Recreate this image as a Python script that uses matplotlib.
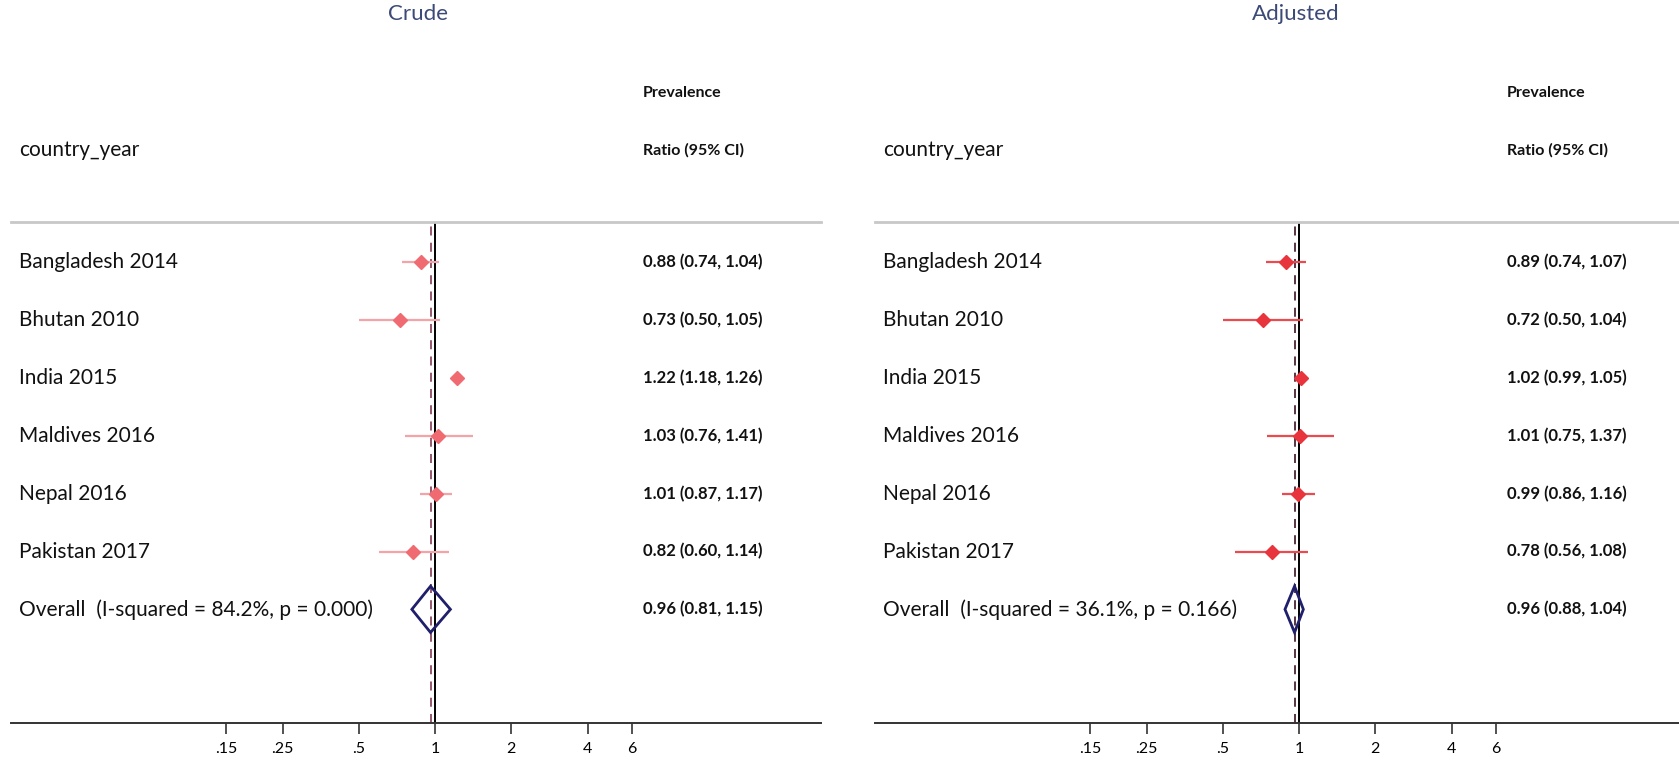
import matplotlib as mpl
import matplotlib.pyplot as plt
from matplotlib.transforms import blended_transform_factory

# study rows
labels = ["Bangladesh 2014", "Bhutan 2010", "India 2015", "Maldives 2016", "Nepal 2016", "Pakistan 2017"]

crude_est = [0.88, 0.73, 1.22, 1.03, 1.01, 0.82]
crude_lo = [0.74, 0.50, 1.18, 0.76, 0.87, 0.60]
crude_hi = [1.04, 1.05, 1.26, 1.41, 1.17, 1.14]
crude_overall = [0.96, 0.81, 1.15]
crude_i2 = "84.2%"
crude_p = "0.000"

adj_est = [0.89, 0.72, 1.02, 1.01, 0.99, 0.78]
adj_lo = [0.74, 0.50, 0.99, 0.75, 0.86, 0.56]
adj_hi = [1.07, 1.04, 1.05, 1.37, 1.16, 1.08]
adj_overall = [0.96, 0.88, 1.04]
adj_i2 = "36.1%"
adj_p = "0.166"

xticks = [0.15, 0.25, 0.5, 1, 2, 4, 6]
xticklabels = [".15", ".25", ".5", "1", "2", "4", "6"]

W, H = 1679, 760
FONT = "Lato"


def px_box(x0, x1, y_top, y_bot):
    # pixel box -> figure fraction rect
    return [x0 / W, 1 - y_bot / H, (x1 - x0) / W, (y_bot - y_top) / H]


def fmt_ci(e, lo, hi):
    return "%.2f (%.2f, %.2f)" % (e, lo, hi)


def forest_panel(fig, x0, est, lo, hi, overall, i2, p, mcol, lcol, dcol):
    ax = fig.add_axes(px_box(x0, x0 + 810, 222, 723))
    ax.set_xscale("log")
    ax.set_xlim(0.02118, 33.4)
    ax.set_ylim(7.965, -0.697)

    for s in ["left", "right"]:
        ax.spines[s].set_visible(False)
    ax.spines["top"].set_color("#c8c8c8")
    ax.spines["top"].set_linewidth(2)
    ax.spines["bottom"].set_color("#333333")
    ax.spines["bottom"].set_linewidth(1.4)

    ax.set_yticks([])
    ax.set_xticks(xticks)
    ax.set_xticklabels(xticklabels, fontfamily=FONT, fontsize=11.5)
    ax.xaxis.set_minor_locator(mpl.ticker.NullLocator())
    ax.tick_params(axis="x", length=8, width=1.2, color="#333333", pad=6)

    ax.axvline(1, color="black", lw=1.4, zorder=2)
    ax.axvline(overall[0], color=dcol, lw=1.3, ls=(0, (5, 4)), zorder=2)

    rows = list(range(len(labels)))
    ax.hlines(rows, lo, hi, color=lcol, lw=1.6, zorder=3)
    ax.plot(est, rows, "D", color=mcol, ms=7, mec=mcol, zorder=4)

    # overall diamond
    yo = len(labels)
    h = 0.40
    ax.fill([overall[1], overall[0], overall[2], overall[0], overall[1]],
            [yo, yo - h, yo, yo + h, yo], facecolor="none", edgecolor="#1f1f6b", lw=2, zorder=5)

    tr = blended_transform_factory(ax.transAxes, ax.transData)
    all_lab = labels + ["Overall  (I-squared = %s, p = %s)" % (i2, p)]
    all_ci = [fmt_ci(e, l, u) for e, l, u in zip(est, lo, hi)] + [fmt_ci(*overall)]
    for k, (lab, ci) in enumerate(zip(all_lab, all_ci)):
        ax.text(0.0099, k, lab, transform=tr, fontfamily=FONT, fontsize=15, va="center", ha="left",
                color="#111111")
        ax.text(0.780, k, ci, transform=tr, fontfamily=FONT, fontsize=12, fontweight="bold",
                va="center", ha="left", color="#111111", clip_on=False)

    ax.text(0.0099, -1.94, "country_year", transform=tr, fontfamily=FONT, fontsize=15,
            va="center", ha="left", color="#111111", clip_on=False)
    ax.text(0.780, -1.94, "Ratio (95% CI)", transform=tr, fontfamily=FONT, fontsize=11.5,
            fontweight="bold", va="center", ha="left", color="#111111", clip_on=False)
    ax.text(0.780, -2.93, "Prevalence", transform=tr, fontfamily=FONT, fontsize=11.5,
            fontweight="bold", va="center", ha="left", color="#111111", clip_on=False)
    return ax


fig = plt.figure(figsize=(W / 100, H / 100), dpi=100)
fig.patch.set_facecolor("white")

forest_panel(fig, 11, crude_est, crude_lo, crude_hi, crude_overall, crude_i2, crude_p,
             "#f06a72", "#f4a3a8", "#8c4b5e")
forest_panel(fig, 875, adj_est, adj_lo, adj_hi, adj_overall, adj_i2, adj_p,
             "#e8343c", "#ea4a50", "#4a2535")

fig.text(418 / W, 1 - 14 / H, "Crude", fontfamily=FONT, fontsize=16, color="#3c4a78",
         ha="center", va="center")
fig.text(1296 / W, 1 - 14 / H, "Adjusted", fontfamily=FONT, fontsize=16, color="#3c4a78",
         ha="center", va="center")

fig.savefig("out.png", dpi=100)
